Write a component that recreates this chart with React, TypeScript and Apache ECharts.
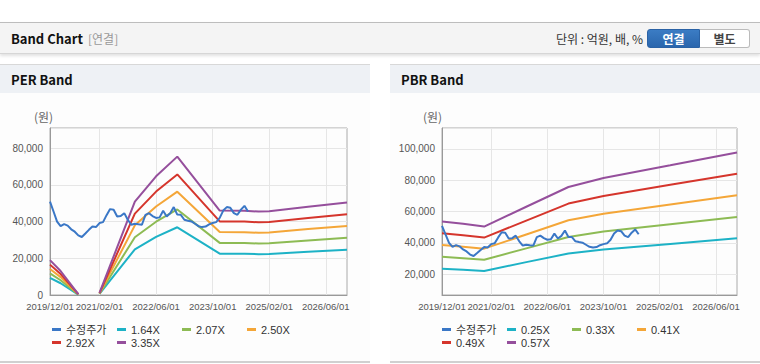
import React, { useEffect, useRef } from "react";
import * as echarts from "echarts";

// ---------- axis categories (monthly, 2019/12 .. 2026/12) ----------
const months: string[] = [];
for (let i = 0; i < 85; i++) {
  const y = 2019 + Math.floor((11 + i) / 12);
  const m = ((11 + i) % 12) + 1;
  months.push(`${y}/${String(m).padStart(2, "0")}/01`);
}
const labelIdx = [0, 14, 30, 46, 62, 78];

// ---------- price (수정주가), monthly from 2019/12 ----------
const price = [
  50900, 45500, 40000, 37500, 38600, 37800, 35800, 34500, 32500, 31600,
  33500, 35500, 37300, 37000, 39200, 39700, 43500, 46800, 46500, 42800,
  43000, 44600, 41000, 38300, 38800, 38500, 38300, 43700, 44600, 43000,
  42000, 42300, 45900, 42800, 44500, 47900, 43800, 43700, 41000, 40500,
  40100, 38800, 37500, 37000, 37300, 38500, 39200, 39700, 42000, 46000,
  47900, 47500, 44600, 43700, 46500, 48600, 45500,
];

// ---------- PER band (key months index, null = break) ----------
const perIdx = [0, 3, 8, 9, 14, 24, 30, 36, 48, 55, 59, 62, 73, 84];
const perNames = ["1.64X", "2.07X", "2.50X", "2.92X", "3.35X"];
const per164 = [9300, 6400, 250, null, 570, 24900, 31650, 36900, 22500, 22450, 22250, 22350, 23550, 24700];
const per207 = [11750, 8050, 310, null, 730, 31450, 39950, 46600, 28400, 28350, 28050, 28200, 29700, 31150];
const per250 = [14200, 9750, 380, null, 880, 37950, 48250, 56300, 34350, 34250, 33900, 34050, 35900, 37600];
const per292 = [16550, 11400, 440, null, 1020, 44350, 56350, 65700, 40100, 40000, 39600, 39750, 41900, 43950];
const per335 = [19000, 13050, 500, null, 1170, 50900, 64650, 75400, 46000, 45900, 45450, 45650, 48050, 50400];

// ---------- PBR band ----------
const pbrIdx = [0, 6, 12, 24, 36, 46, 65, 84];
const pbrNames = ["0.25X", "0.33X", "0.41X", "0.49X", "0.57X"];
const pbr025 = [23500, 22900, 22100, 27700, 33200, 35700, 39300, 42900];
const pbr033 = [31100, 30200, 29200, 36500, 43800, 47200, 51900, 56600];
const pbr041 = [38600, 37500, 36300, 45400, 54500, 58600, 64500, 70400];
const pbr049 = [46100, 44800, 43400, 54200, 65100, 70000, 77100, 84100];
const pbr057 = [53600, 52200, 50400, 63100, 75700, 81500, 89600, 97800];

const colors = ["#3a77c6", "#1db2c6", "#8dbb54", "#f4a638", "#d5352c", "#954f9c"];
const FONT = '"Liberation Sans", Arial, "Noto Sans CJK KR", sans-serif';
const KFONT = '"Noto Sans CJK KR", "Noto Sans", sans-serif';

// legend item slots (left, top) inside each chart box
const legendSlots = [
  [52, 231], [117, 231], [182, 231], [247, 231],
  [52, 244], [117, 244],
];

const numFmt = (v: number) => v.toLocaleString("en-US");

function buildOption(
  bandNames: string[],
  bandIdx: number[],
  bands: (number | null)[][],
  grid: { left: number; right: number; top: number; bottom: number },
  yAxisCfg: any,
  titleLeft: number
) {
  const series: any[] = [
    {
      name: "수정주가",
      type: "line",
      data: price,
      showSymbol: false,
      lineStyle: { width: 2, color: colors[0] },
      itemStyle: { color: colors[0] },
      z: 3,
    },
  ];
  bands.forEach((vals, bi) => {
    series.push({
      name: bandNames[bi],
      type: "line",
      data: bandIdx.map((k, i) => [months[k], vals[i] === null ? "-" : vals[i]]),
      showSymbol: false,
      connectNulls: false,
      lineStyle: { width: 2, color: colors[bi + 1] },
      itemStyle: { color: colors[bi + 1] },
      z: 2,
    });
  });
  const allNames = ["수정주가", ...bandNames];
  const legends = allNames.map((n, i) => ({
    data: [n],
    left: legendSlots[i][0],
    top: legendSlots[i][1],
    padding: 0,
    itemGap: 0,
    itemWidth: 9,
    itemHeight: 3,
    icon: "rect",
    selectedMode: false,
    textStyle: { fontSize: 11, color: "#333", fontFamily: FONT },
  }));
  return {
    animation: false,
    color: colors,
    title: {
      text: "(원)",
      left: titleLeft,
      top: 17,
      padding: 0,
      textStyle: { fontSize: 12, fontWeight: "normal", color: "#666", fontFamily: KFONT },
    },
    legend: legends,
    grid: { ...grid, show: true, borderColor: "#aaa", borderWidth: 1, backgroundColor: "transparent" },
    xAxis: {
      type: "category",
      data: months,
      boundaryGap: false,
      axisLine: { lineStyle: { color: "#999" } },
      axisTick: { show: false },
      axisLabel: {
        interval: (i: number) => labelIdx.includes(i),
        fontSize: 9.5,
        color: "#555",
        margin: 7,
        fontFamily: FONT,
        showMinLabel: true,
        hideOverlap: false,
      },
      splitLine: {
        show: true,
        interval: (i: number) => labelIdx.includes(i),
        lineStyle: { color: "#e6e6e6" },
      },
    },
    yAxis: {
      type: "value",
      axisLine: { show: true, lineStyle: { color: "#999" } },
      axisTick: { show: false },
      splitLine: { lineStyle: { color: "#e6e6e6" } },
      ...yAxisCfg,
    },
    series,
  };
}

function Chart({ option }: { option: any }) {
  const ref = useRef<HTMLDivElement>(null);
  useEffect(() => {
    if (!ref.current) return;
    const chart = echarts.init(ref.current, undefined, { renderer: "svg" });
    chart.setOption(option);
    return () => chart.dispose();
  }, [option]);
  return <div ref={ref} style={{ width: 370, height: 269 }} />;
}

const yLabel = { fontSize: 10, color: "#555", margin: 7, fontFamily: FONT, formatter: numFmt };

const perOption = buildOption(
  perNames,
  perIdx,
  [per164, per207, per250, per292, per335],
  { left: 50, right: 23, top: 35, bottom: 67 },
  { min: 0, max: 91000, interval: 20000, axisLabel: { ...yLabel, showMaxLabel: false } },
  34
);

const pbrOption = buildOption(
  pbrNames,
  pbrIdx,
  [pbr025, pbr033, pbr041, pbr049, pbr057],
  { left: 52, right: 23, top: 35, bottom: 67 },
  { min: 6700, max: 113400, splitNumber: 5, axisLabel: { ...yLabel, showMinLabel: false, showMaxLabel: false } },
  33
);

function Panel({ left, title, option }: { left: number; title: string; option: any }) {
  return (
    <div style={{ position: "absolute", left, top: 64, width: 370, height: 299, background: "#fdfdfd", borderBottom: "2px solid #d0d0d0", boxSizing: "border-box" }}>
      <div style={{ height: 29, background: "#eef1f5", borderTop: "1px solid #d8d8d8", boxSizing: "border-box", position: "relative" }}>
        <span style={{ position: "absolute", left: 11, top: 5, fontFamily: KFONT, fontWeight: 700, fontSize: 13, color: "#111" }}>{title}</span>
      </div>
      <Chart option={option} />
    </div>
  );
}

export default function App() {
  return (
    <div style={{ position: "absolute", left: 0, top: 0, width: 760, height: 364, background: "#fff", overflow: "hidden", fontFamily: KFONT }}>
      <div style={{ position: "absolute", left: 0, top: 22, width: 760, height: 32, background: "#f4f4f4", borderTop: "1px solid #bdbdbd", borderBottom: "1px solid #d6d6d6", boxShadow: "0 2px 3px rgba(0,0,0,0.12)", boxSizing: "border-box" }}>
        <span style={{ position: "absolute", left: 11, top: 6, fontWeight: 700, fontSize: 13, color: "#111" }}>Band Chart</span>
        <span style={{ position: "absolute", left: 88, top: 7, fontSize: 12, color: "#999" }}>[연결]</span>
        <span style={{ position: "absolute", right: 117, top: 7, fontSize: 12, color: "#333" }}>단위 : 억원, 배, %</span>
        <div style={{ position: "absolute", left: 647, top: 6, width: 53, height: 19, boxSizing: "border-box", background: "linear-gradient(#3b7cc4, #2a66ad)", border: "1px solid #2a62a5", borderRadius: "3px 0 0 3px", color: "#fff", fontWeight: 700, fontSize: 12, textAlign: "center", lineHeight: "17px" }}>연결</div>
        <div style={{ position: "absolute", left: 700, top: 6, width: 50, height: 19, boxSizing: "border-box", background: "#fff", border: "1px solid #bbb", borderLeft: "none", borderRadius: "0 3px 3px 0", color: "#444", fontWeight: 700, fontSize: 12, textAlign: "center", lineHeight: "17px" }}>별도</div>
      </div>
      <Panel left={0} title="PER Band" option={perOption} />
      <Panel left={390} title="PBR Band" option={pbrOption} />
    </div>
  );
}
